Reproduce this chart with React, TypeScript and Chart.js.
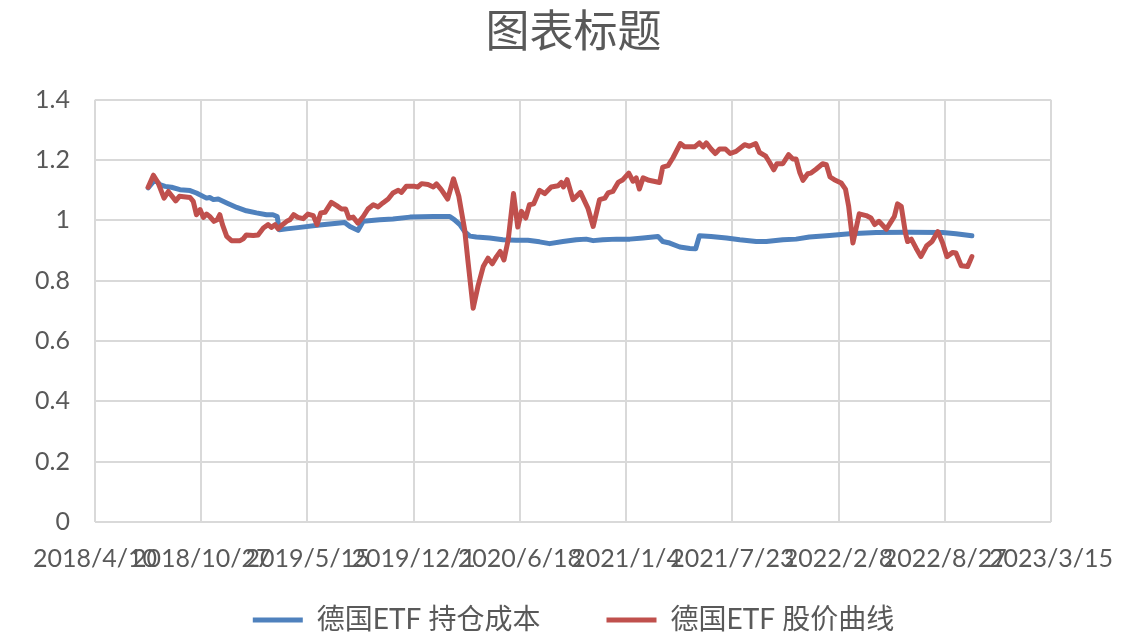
import React, { useEffect, useRef } from 'react';
import { Chart, registerables } from 'chart.js';

Chart.register(...registerables);

const TITLE = '图表标题';
const COST_LABEL = '德国ETF 持仓成本';
const PRICE_LABEL = '德国ETF 股价曲线';

// x values are Excel date serial numbers (43200 = 2018/4/10)
const X_MIN = 43200;
const X_MAX = 45000;
const X_STEP = 200;
const Y_MIN = 0;
const Y_MAX = 1.4;
const Y_STEP = 0.2;

const costDates = [
  43300, 43313, 43322, 43332, 43344, 43360, 43379, 43391, 43410, 43416,
  43423, 43432, 43448, 43467, 43485, 43504, 43523, 43535, 43543, 43547,
  43561, 43586, 43623, 43670, 43680, 43695, 43705, 43736, 43761, 43793,
  43837, 43868, 43877, 43887, 43896, 43906, 43918, 43943, 43968, 43993,
  44015, 44037, 44056, 44081, 44106, 44125, 44138, 44156, 44182, 44207,
  44232, 44260, 44269, 44282, 44301, 44320, 44331, 44338, 44360, 44389,
  44414, 44445, 44464, 44495, 44520, 44545, 44583, 44621, 44671, 44733,
  44796, 44821, 44851,
];
const costValues = [
  1.108, 1.135, 1.119, 1.113, 1.110, 1.102, 1.099, 1.091, 1.074, 1.076,
  1.069, 1.071, 1.058, 1.043, 1.032, 1.025, 1.019, 1.019, 1.013, 0.969,
  0.972, 0.977, 0.985, 0.993, 0.980, 0.967, 0.997, 1.002, 1.005, 1.011,
  1.013, 1.013, 1.002, 0.986, 0.963, 0.948, 0.945, 0.942, 0.936, 0.934,
  0.934, 0.929, 0.923, 0.930, 0.936, 0.938, 0.933, 0.936, 0.938, 0.938,
  0.942, 0.947, 0.930, 0.925, 0.912, 0.907, 0.906, 0.949, 0.947, 0.942,
  0.936, 0.930, 0.930, 0.936, 0.938, 0.945, 0.950, 0.956, 0.960, 0.961,
  0.960, 0.956, 0.949,
];

const priceDates = [
  43300, 43310, 43319, 43330, 43338, 43352, 43359, 43379, 43385, 43391,
  43398, 43404, 43410, 43416, 43424, 43430, 43435, 43440, 43448, 43457,
  43473, 43479, 43485, 43498, 43507, 43517, 43526, 43532, 43539, 43545,
  43551, 43561, 43567, 43574, 43582, 43592, 43601, 43611, 43618, 43625,
  43633, 43645, 43655, 43664, 43672, 43678, 43686, 43695, 43705, 43714,
  43724, 43733, 43742, 43752, 43761, 43771, 43777, 43786, 43802, 43808,
  43815, 43827, 43837, 43843, 43852, 43864, 43875, 43885, 43896, 43902,
  43912, 43921, 43931, 43940, 43948, 43956, 43963, 43970, 43978, 43988,
  43996, 44003, 44011, 44018, 44026, 44037, 44047, 44059, 44072, 44078,
  44082, 44089, 44100, 44114, 44128, 44138, 44150, 44160, 44166, 44175,
  44185, 44194, 44205, 44213, 44219, 44225, 44232, 44243, 44263, 44269,
  44279, 44288, 44302, 44310, 44329, 44338, 44345, 44351, 44360, 44368,
  44376, 44387, 44396, 44407, 44423, 44432, 44444, 44451, 44463, 44470,
  44478, 44484, 44495, 44506, 44514, 44520, 44527, 44533, 44542, 44548,
  44557, 44570, 44577, 44584, 44592, 44605, 44613, 44619, 44627, 44639,
  44652, 44661, 44668, 44676, 44690, 44701, 44705, 44711, 44718, 44726,
  44730, 44737, 44746, 44755, 44766, 44776, 44787, 44796, 44804, 44815,
  44821, 44831, 44843, 44851,
];
const priceValues = [
  1.110, 1.150, 1.124, 1.074, 1.096, 1.065, 1.080, 1.076, 1.063, 1.019,
  1.036, 1.010, 1.021, 1.013, 0.997, 1.002, 1.019, 0.986, 0.947, 0.933,
  0.933, 0.939, 0.952, 0.950, 0.952, 0.975, 0.986, 0.977, 0.986, 0.972,
  0.983, 0.997, 1.002, 1.019, 1.010, 1.006, 1.021, 1.016, 0.986, 1.025,
  1.027, 1.060, 1.049, 1.038, 1.038, 1.008, 1.011, 0.991, 1.013, 1.038,
  1.052, 1.045, 1.058, 1.071, 1.091, 1.100, 1.093, 1.113, 1.113, 1.111,
  1.122, 1.119, 1.111, 1.121, 1.102, 1.071, 1.138, 1.080, 0.969, 0.869,
  0.709, 0.781, 0.847, 0.875, 0.856, 0.880, 0.897, 0.869, 0.936, 1.089,
  0.978, 1.030, 1.008, 1.052, 1.055, 1.100, 1.089, 1.111, 1.115, 1.126,
  1.111, 1.135, 1.069, 1.093, 1.041, 0.980, 1.069, 1.074, 1.091, 1.096,
  1.126, 1.135, 1.157, 1.130, 1.141, 1.104, 1.141, 1.133, 1.126, 1.177,
  1.182, 1.207, 1.255, 1.244, 1.244, 1.257, 1.244, 1.257, 1.237, 1.222,
  1.237, 1.237, 1.222, 1.229, 1.251, 1.246, 1.255, 1.226, 1.213, 1.193,
  1.168, 1.188, 1.188, 1.218, 1.204, 1.204, 1.159, 1.133, 1.155, 1.157,
  1.169, 1.188, 1.185, 1.144, 1.135, 1.124, 1.104, 1.047, 0.925, 1.022,
  1.016, 1.008, 0.986, 0.997, 0.971, 1.002, 1.013, 1.055, 1.047, 0.958,
  0.930, 0.938, 0.908, 0.880, 0.916, 0.930, 0.963, 0.925, 0.880, 0.894,
  0.892, 0.850, 0.847, 0.880,
];

const COST_COLOR = '#4F81BD';
const PRICE_COLOR = '#C0504D';
const TEXT_COLOR = '#595959';
const GRID_COLOR = '#D9D9D9';
const FONT_FAMILY = "Lato, 'Noto Sans CJK SC', sans-serif";

function serialToLabel(serial: number): string {
  const d = new Date(Date.UTC(1899, 11, 30) + Math.round(serial) * 86400000);
  return `${d.getUTCFullYear()}/${d.getUTCMonth() + 1}/${d.getUTCDate()}`;
}

export default function App() {
  const canvasRef = useRef<HTMLCanvasElement>(null);

  useEffect(() => {
    if (!canvasRef.current) return;
    Chart.defaults.font.family = FONT_FAMILY;
    const chart = new Chart(canvasRef.current, {
      type: 'line',
      data: {
        datasets: [
          {
            label: COST_LABEL,
            data: costDates.map((x, i) => ({ x, y: costValues[i] })),
            borderColor: COST_COLOR,
            backgroundColor: COST_COLOR,
            borderWidth: 5,
            pointRadius: 0,
            tension: 0,
            borderJoinStyle: 'round',
            borderCapStyle: 'round',
            order: 1,
          },
          {
            label: PRICE_LABEL,
            data: priceDates.map((x, i) => ({ x, y: priceValues[i] })),
            borderColor: PRICE_COLOR,
            backgroundColor: PRICE_COLOR,
            borderWidth: 5,
            pointRadius: 0,
            tension: 0,
            borderJoinStyle: 'round',
            borderCapStyle: 'round',
            order: 0,
          },
        ],
      },
      options: {
        animation: false,
        responsive: false,
        maintainAspectRatio: false,
        layout: { padding: 0 },
        plugins: {
          title: {
            display: true,
            text: TITLE,
            color: TEXT_COLOR,
            font: { size: 44, weight: 'normal', lineHeight: 1.2, family: FONT_FAMILY },
            padding: { top: 6, bottom: 41 },
          },
          legend: {
            position: 'bottom',
            labels: {
              color: TEXT_COLOR,
              font: { size: 28, family: FONT_FAMILY },
              boxWidth: 50,
              boxHeight: 5,
              padding: 10,
              generateLabels: (c: any) => {
                const items = Chart.defaults.plugins.legend.labels.generateLabels(c);
                items.sort((a: any, b: any) => a.datasetIndex - b.datasetIndex);
                return items.map((it: any, idx: number) => ({
                  ...it,
                  lineWidth: 0,
                  text: idx < items.length - 1 ? it.text + '\u3000\u3000' : it.text,
                }));
              },
            },
          },
          tooltip: { enabled: false },
        },
        scales: {
          x: {
            type: 'linear',
            min: X_MIN,
            max: X_MAX,
            grid: { color: GRID_COLOR, lineWidth: 2, drawTicks: false },
            border: { display: false },
            ticks: {
              stepSize: X_STEP,
              autoSkip: false,
              maxRotation: 0,
              minRotation: 0,
              padding: 22,
              color: TEXT_COLOR,
              font: { size: 25 },
              callback: (v: any) => serialToLabel(Number(v)),
            },
            afterFit: (s: any) => {
              s.height = 74;
            },
          },
          y: {
            min: Y_MIN,
            max: Y_MAX,
            grid: { color: GRID_COLOR, lineWidth: 2, drawTicks: false },
            border: { display: false },
            ticks: {
              stepSize: Y_STEP,
              padding: 25,
              color: TEXT_COLOR,
              font: { size: 25 },
              callback: (v: any) => String(Math.round(Number(v) * 10) / 10),
            },
            afterFit: (s: any) => {
              s.width = 95;
            },
          },
          yRight: {
            position: 'right',
            display: true,
            grid: { display: false },
            border: { display: false },
            ticks: { display: false },
            afterFit: (s: any) => {
              s.width = 96;
            },
          },
        },
      },
    } as any);
    return () => chart.destroy();
  }, []);

  return (
    <div style={{ position: 'fixed', left: 0, top: 0, width: 1147, height: 644, background: '#ffffff' }}>
      <canvas ref={canvasRef} width={1147} height={644} style={{ display: 'block', width: 1147, height: 644 }} />
    </div>
  );
}
